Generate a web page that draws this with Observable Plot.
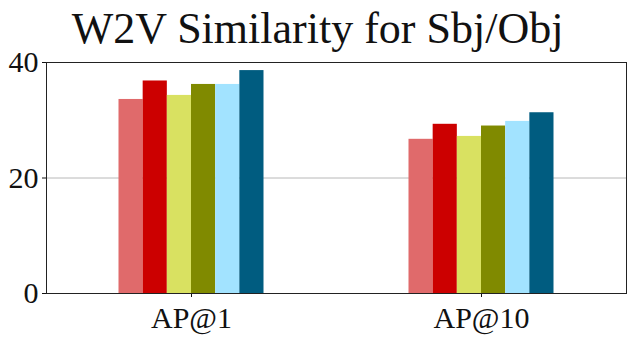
<!DOCTYPE html>
<html>
<head>
<meta charset="utf-8">
<script src="https://cdn.jsdelivr.net/npm/d3@7"></script>
<script src="https://cdn.jsdelivr.net/npm/@observablehq/plot@0.6"></script>
<style>
  html, body { margin: 0; padding: 0; background: #fff; }
  #chart svg, #chart svg text { font-family: "Liberation Serif", "Times New Roman", serif; }
</style>
</head>
<body>
<div id="chart"></div>
<script>
const title = "W2V Similarity for Sbj/Obj";
const groups = ["AP@1", "AP@10"];
const series = ["S1", "S2", "S3", "S4", "S5", "S6"];
const valuesAP1 = [33.6, 36.8, 34.3, 36.2, 36.2, 38.6];
const valuesAP10 = [26.7, 29.3, 27.2, 29.0, 29.8, 31.3];
const colors = ["#e06a6b", "#cc0000", "#d9e161", "#808a00", "#a2e3ff", "#005c80"];
const yTicks = [0, 20, 40];

const seriesValues = [valuesAP1, valuesAP10];
const nS = series.length;
const data = groups.flatMap((g, gi) =>
  series.map((s, si) => ({
    group: g,
    series: s,
    x1: gi - 0.25 + si / (2 * nS),
    x2: gi - 0.25 + (si + 1) / (2 * nS),
    value: seriesValues[gi][si]
  }))
);

const chart = Plot.plot({
  width: 634,
  height: 337,
  marginLeft: 46,
  marginRight: 8,
  marginTop: 62,
  marginBottom: 44,
  style: "font-family: 'Liberation Serif', serif; font-size: 30px; color: #111; background: #fff;",
  x: {
    type: "linear",
    domain: [-0.5, groups.length - 0.5],
    ticks: groups.map((g, i) => i),
    tickFormat: i => groups[i],
    tickSize: 4,
    tickPadding: 9,
    label: null
  },
  y: {
    domain: [0, 40],
    ticks: yTicks,
    tickSize: 4,
    tickPadding: 4,
    label: null
  },
  color: {domain: series, range: colors},
  marks: [
    Plot.ruleY(yTicks, {stroke: "#b8b8b8", strokeWidth: 1}),
    Plot.rectY(data, {x1: "x1", x2: "x2", y: "value", fill: "series"}),
    Plot.frame({stroke: "#222", strokeWidth: 1}),
    Plot.text([title], {frameAnchor: "top", dx: -19, dy: -20, lineAnchor: "bottom", fontSize: 44, fill: "#111"})
  ]
});
document.getElementById("chart").appendChild(chart);
</script>
</body>
</html>
